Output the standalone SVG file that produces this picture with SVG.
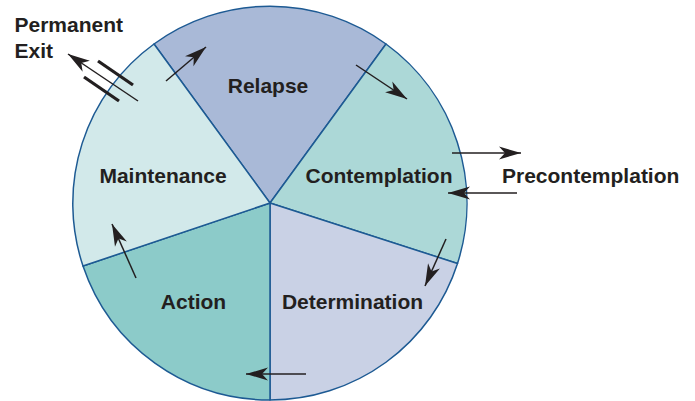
<svg xmlns="http://www.w3.org/2000/svg" width="695" height="401" viewBox="0 0 695 401">
<style>
.sec{stroke:#1d5a93;stroke-width:1.5;stroke-linejoin:round}
.lbl{font-family:"Liberation Sans",Arial,sans-serif;font-weight:bold;font-size:21px;fill:#231f20}
.arr{stroke:#231f20;stroke-width:1.5;fill:none;marker-end:url(#ah)}
.bar{stroke:#231f20;stroke-width:3.2;fill:none}
</style>
<defs>
<marker id="ah" markerUnits="userSpaceOnUse" viewBox="-23 -7 24 14" refX="0" refY="0" markerWidth="24" markerHeight="14" orient="auto">
<path d="M0,0 L-22,-6.5 L-16,0 L-22,6.5 Z" fill="#231f20"/>
</marker>
</defs>
<rect width="695" height="401" fill="#ffffff"/>
<g id="relapse">
<path class="sec" fill="#a9b9d7" d="M270,203 L154,44 A197,197 0 0 1 386,44 Z"/>
<text class="lbl" x="268" y="93" text-anchor="middle">Relapse</text>
</g>
<g id="contemplation">
<path class="sec" fill="#acd8d7" d="M270,203 L386,44 A197,197 0 0 1 457.5,263.5 Z"/>
<text class="lbl" x="379" y="183" text-anchor="middle">Contemplation</text>
</g>
<g id="determination">
<path class="sec" fill="#c9d1e5" d="M270,203 L457.5,263.5 A197,197 0 0 1 270,400 Z"/>
<text class="lbl" x="352.5" y="309" text-anchor="middle">Determination</text>
</g>
<g id="action">
<path class="sec" fill="#8ccbc9" d="M270,203 L270,400 A197,197 0 0 1 83,266 Z"/>
<text class="lbl" x="193.5" y="309" text-anchor="middle">Action</text>
</g>
<g id="maintenance">
<path class="sec" fill="#d2e9ea" d="M270,203 L83,266 A197,197 0 0 1 154,44 Z"/>
<text class="lbl" x="163" y="183" text-anchor="middle">Maintenance</text>
</g>
<g id="precontemplation">
<text class="lbl" x="502" y="183">Precontemplation</text>
</g>
<g id="permanent-exit">
<text class="lbl" x="14.5" y="32">Permanent</text>
<text class="lbl" x="14.5" y="58">Exit</text>
</g>
<g id="connectors">
<line class="arr" x1="166" y1="81" x2="206" y2="47"/>
<line class="arr" x1="356" y1="65" x2="407" y2="99"/>
<line class="arr" x1="452" y1="153" x2="521" y2="153"/>
<line class="arr" x1="517" y1="193" x2="448" y2="193"/>
<line class="arr" x1="446" y1="239" x2="425" y2="286"/>
<line class="arr" x1="306" y1="374" x2="246" y2="374"/>
<line class="arr" x1="136" y1="278" x2="112" y2="224"/>
<line class="arr" x1="138" y1="101" x2="68" y2="54"/>
<line class="bar" x1="98" y1="61" x2="133" y2="85"/>
<line class="bar" x1="84" y1="77" x2="119" y2="101"/>
</g>
</svg>
